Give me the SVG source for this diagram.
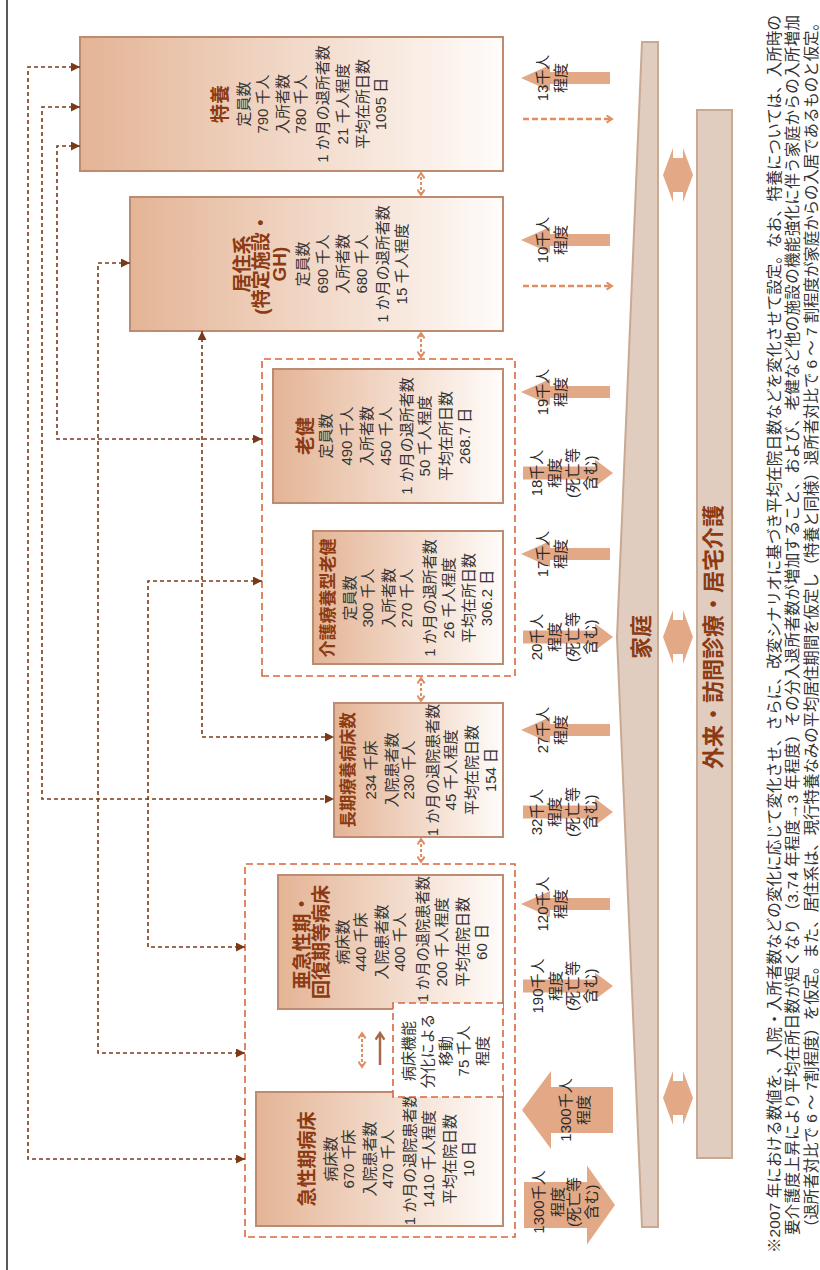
<svg xmlns="http://www.w3.org/2000/svg" width="820" height="1270" viewBox="0 0 820 1270">
<defs>
<style>
.box{fill:url(#bg);stroke:#bd8c70;stroke-width:2}
.grp{fill:none;stroke:#d9673d;stroke-width:1.6;stroke-dasharray:7 4}
.conn{fill:none;stroke:#7b3a17;stroke-width:1.6;stroke-dasharray:4 3;marker-start:url(#tri);marker-end:url(#tri)}
.t{font-family:'Liberation Sans','Noto Sans CJK JP',sans-serif;font-size:15px;fill:#333;text-anchor:middle;dominant-baseline:central}
.h{font-weight:bold;fill:#8b3a12;font-size:19px}
.lb{font-family:'Liberation Sans','Noto Sans CJK JP',sans-serif;font-size:15px;fill:#2b2b2b;text-anchor:middle;dominant-baseline:central}
.arr{fill:#e3a886}
.bar{fill:#e0cdc0;stroke:#caa993;stroke-width:2}
.od{fill:none;stroke:#df8e62;stroke-width:2;stroke-dasharray:3 2;marker-start:url(#chO);marker-end:url(#chO)}
.ol{fill:none;stroke:#df8e62;stroke-width:2.5;stroke-dasharray:6 3;marker-end:url(#chO)}
.bt{font-family:'Liberation Sans','Noto Sans CJK JP',sans-serif;font-size:22px;font-weight:bold;fill:#8b3a12;text-anchor:middle;dominant-baseline:central}
.n{font-family:'Liberation Sans','Noto Sans CJK JP',sans-serif;font-size:15.5px;fill:#333;dominant-baseline:central}
</style>
<linearGradient id="bg" x1="0" y1="0" x2="0" y2="1"><stop offset="0" stop-color="#e4b495"/><stop offset="1" stop-color="#fffcfa"/></linearGradient>
<marker id="tri" viewBox="0 0 10 10" refX="10" refY="5" markerWidth="9" markerHeight="9" markerUnits="userSpaceOnUse" orient="auto-start-reverse"><path d="M0,0 L10,5 L0,10 Z" fill="#7b3a17"/></marker>
<marker id="chO" viewBox="0 0 10 10" refX="8" refY="5" markerWidth="9" markerHeight="9" markerUnits="userSpaceOnUse" orient="auto-start-reverse"><path d="M2,1 L8,5 L2,9" fill="none" stroke="#df8e62" stroke-width="2.2"/></marker>
<marker id="chB" viewBox="0 0 10 10" refX="8" refY="5" markerWidth="11" markerHeight="11" markerUnits="userSpaceOnUse" orient="auto"><path d="M2,1 L8,5 L2,9" fill="none" stroke="#a5694b" stroke-width="2.2"/></marker>
<path id="upS" d="M0,521 L13,550 L6,550 L6,610 L-6,610 L-6,550 L-13,550 Z"/>
<path id="dnS" d="M-6.5,523 L6.5,523 L6.5,595 L13.5,595 L0,613 L-13.5,595 L-6.5,595 Z"/>
<path id="dbl" d="M0,663 L27,673 L17,673 L17,683 L27,683 L0,693 L-27,683 L-17,683 L-17,673 L-27,673 Z"/>
</defs>
<rect width="820" height="1270" fill="#fff"/>
<g transform="translate(0,1270) rotate(-90)">
<line x1="0" y1="7" x2="1270" y2="7" stroke="#222" stroke-width="1.5"/>

<g id="bars">
<g id="n-home">
<polygon class="bar" points="1228,642 1228,658 43,658 43,642 633,617"/>
<text class="bt" x="633" y="641">家庭</text>
</g>
<g id="n-outpatient">
<rect class="bar" x="112" y="697" width="1048" height="35"/>
<text class="bt" x="633" y="713">外来・訪問診療・居宅介護</text>
</g>
<g id="exchange" class="arr">
<use href="#dbl" x="1095"/>
<use href="#dbl" x="633"/>
<use href="#dbl" x="172"/>
</g>
</g>

<g id="groups">
<rect id="grp-care" class="grp" x="594" y="262" width="317" height="253"/>
<rect id="grp-hosp" class="grp" x="33" y="245" width="373" height="270"/>
</g>

<g id="n-tokuyo">
<rect class="box" x="1099" y="80" width="134" height="423"/>
<text class="t h" x="1166" y="220">特養</text>
<text class="t"><tspan x="1166" y="243">定員数</tspan><tspan x="1166" y="262">790 千人</tspan><tspan x="1166" y="282">入所者数</tspan><tspan x="1166" y="300">780 千人</tspan><tspan x="1166" y="322">1 か月の退所者数</tspan><tspan x="1166" y="342">21 千人程度</tspan><tspan x="1166" y="362">平均在所日数</tspan><tspan x="1166" y="380">1095 日</tspan></text>
</g>

<g id="n-kyoju">
<rect class="box" x="939" y="130" width="134" height="373"/>
<text class="t h"><tspan x="1006" y="242">居住系</tspan><tspan x="1006" y="261">(特定施設・</tspan><tspan x="1006" y="279">GH)</tspan></text>
<text class="t"><tspan x="1006" y="302">定員数</tspan><tspan x="1006" y="322">690 千人</tspan><tspan x="1006" y="342">入所者数</tspan><tspan x="1006" y="361">680 千人</tspan><tspan x="1006" y="382">1 か月の退所者数</tspan><tspan x="1006" y="401">15 千人程度</tspan></text>
</g>

<g id="n-roken">
<rect class="box" x="767" y="273" width="134" height="230"/>
<text class="t h" x="834" y="305">老健</text>
<text class="t"><tspan x="834" y="325">定員数</tspan><tspan x="834" y="346">490 千人</tspan><tspan x="834" y="366">入所者数</tspan><tspan x="834" y="385">450 千人</tspan><tspan x="834" y="406">1 か月の退所者数</tspan><tspan x="834" y="424">50 千人程度</tspan><tspan x="834" y="445">平均在所日数</tspan><tspan x="834" y="464">268.7 日</tspan></text>
</g>

<g id="n-kaigo">
<rect class="box" x="606" y="313" width="133" height="190"/>
<text class="t h" x="672" y="328" style="font-size:17px">介護療養型老健</text>
<text class="t"><tspan x="672" y="349">定員数</tspan><tspan x="672" y="367">300 千人</tspan><tspan x="672" y="388">入所者数</tspan><tspan x="672" y="406">270 千人</tspan><tspan x="672" y="429">1 か月の退所者数</tspan><tspan x="672" y="448">26 千人程度</tspan><tspan x="672" y="468">平均在所日数</tspan><tspan x="672" y="486">306.2 日</tspan></text>
</g>

<g id="n-choki">
<rect class="box" x="433" y="334" width="134" height="169"/>
<text class="t h" x="500" y="348" style="font-size:16.5px">長期療養病床数</text>
<text class="t"><tspan x="500" y="370">234 千床</tspan><tspan x="500" y="391">入院患者数</tspan><tspan x="500" y="408">230 千人</tspan><tspan x="500" y="432">1 か月の退院患者数</tspan><tspan x="500" y="450">45 千人程度</tspan><tspan x="500" y="471">平均在院日数</tspan><tspan x="500" y="490">154 日</tspan></text>
</g>

<g id="n-akyusei">
<rect class="box" x="261" y="278" width="134" height="225"/>
<text class="t h"><tspan x="328" y="302">亜急性期・</tspan><tspan x="328" y="321">回復期等病床</tspan></text>
<text class="t"><tspan x="328" y="342">病床数</tspan><tspan x="328" y="360">440 千床</tspan><tspan x="328" y="381">入院患者数</tspan><tspan x="328" y="399">400 千人</tspan></text>
<text class="t" x="331" y="422" textLength="126" lengthAdjust="spacingAndGlyphs">1 か月の退院患者数</text>
<text class="t"><tspan x="328" y="441">200 千人程度</tspan><tspan x="328" y="462">平均在院日数</tspan><tspan x="328" y="481">60 日</tspan></text>
</g>

<g id="n-kyusei">
<rect class="box" x="44" y="256" width="134" height="247"/>
<text class="t h" x="111" y="307">急性期病床</text>
<text class="t"><tspan x="111" y="330">病床数</tspan><tspan x="111" y="348">670 千床</tspan><tspan x="111" y="369">入院患者数</tspan><tspan x="111" y="387">470 千人</tspan><tspan x="111" y="409">1 か月の退院患者数</tspan><tspan x="111" y="428">1410 千人程度</tspan><tspan x="111" y="449">平均在院日数</tspan><tspan x="111" y="468">10 日</tspan></text>
</g>

<g id="n-transfer">
<rect x="173" y="393" width="94" height="110" fill="#fff" stroke="#d9673d" stroke-width="1.6" stroke-dasharray="7 4"/>
<text class="t"><tspan x="219" y="408">病床機能</tspan><tspan x="219" y="427">分化による</tspan><tspan x="219" y="445">移動</tspan><tspan x="219" y="463">75 千人</tspan><tspan x="219" y="482">程度</tspan></text>
</g>

<g id="connectors">
<path class="conn" d="M1203,80 L1203,28 L111,28 L111,245"/>
<path class="conn" d="M1163,80 L1163,42 L471,42 L471,334"/>
<path class="conn" d="M1124,80 L1124,57 L831,57 L831,262"/>
<path class="conn" d="M1007,130 L1007,98 L217,98 L217,245"/>
<path class="conn" d="M689,262 L689,148 L323,148 L323,245"/>
<path class="conn" d="M939,202 L533,202 L533,334"/>
<path class="od" d="M1075,421 L1097,421"/>
<path class="od" d="M913,421 L937,421"/>
<path class="od" d="M569,421 L592,421"/>
<path class="od" d="M408,421 L431,421"/>
<path class="od" d="M203,362 L237,362"/>
<path d="M205,380 L237,380" fill="none" stroke="#a5694b" stroke-width="2.5" marker-end="url(#chB)"/>
</g>

<g id="flows">
<g class="arr">
<use href="#upS" x="1192"/>
<use href="#upS" x="1030"/>
<use href="#upS" x="878"/>
<use href="#upS" x="716"/>
<use href="#upS" x="540"/>
<use href="#upS" x="366"/>
<use href="#dnS" x="797"/>
<use href="#dnS" x="633"/>
<use href="#dnS" x="458"/>
<use href="#dnS" x="284"/>
<path d="M160,522 L199,551 L183,551 L183,613 L137,613 L137,551 L121,551 Z"/>
<path d="M42,524 L88,524 L88,587 L104.5,587 L65,615 L25.5,587 L42,587 Z"/>
</g>
<path class="ol" d="M1151,523 L1151,612"/>
<path class="ol" d="M984,523 L984,612"/>
<text class="lb"><tspan x="1192" y="542">13千人</tspan><tspan x="1192" y="560">程度</tspan></text>
<text class="lb"><tspan x="1030" y="542">10千人</tspan><tspan x="1030" y="560">程度</tspan></text>
<text class="lb"><tspan x="878" y="542">19千人</tspan><tspan x="878" y="560">程度</tspan></text>
<text class="lb"><tspan x="797" y="536">18千人</tspan><tspan x="797" y="554">程度</tspan><tspan x="797" y="572">(死亡等</tspan><tspan x="797" y="590">含む)</tspan></text>
<text class="lb"><tspan x="716" y="542">17千人</tspan><tspan x="716" y="560">程度</tspan></text>
<text class="lb"><tspan x="633" y="536">20千人</tspan><tspan x="633" y="554">程度</tspan><tspan x="633" y="572">(死亡等</tspan><tspan x="633" y="590">含む)</tspan></text>
<text class="lb"><tspan x="540" y="542">27千人</tspan><tspan x="540" y="560">程度</tspan></text>
<text class="lb"><tspan x="458" y="536">32千人</tspan><tspan x="458" y="554">程度</tspan><tspan x="458" y="572">(死亡等</tspan><tspan x="458" y="590">含む)</tspan></text>
<text class="lb"><tspan x="366" y="542">120千人</tspan><tspan x="366" y="560">程度</tspan></text>
<text class="lb"><tspan x="284" y="537">190千人</tspan><tspan x="284" y="555">程度</tspan><tspan x="284" y="572">(死亡等</tspan><tspan x="284" y="590">含む)</tspan></text>
<text class="lb"><tspan x="160" y="565">1300千人</tspan><tspan x="160" y="583">程度</tspan></text>
<text class="lb"><tspan x="68" y="538">1300千人</tspan><tspan x="68" y="557">程度</tspan><tspan x="68" y="573">(死亡等</tspan><tspan x="68" y="591">含む)</tspan></text>
</g>

<g id="n-note">
<text class="n" x="17" y="774" textLength="1238" lengthAdjust="spacing">※2007 年における数値を、入院・入所者数などの変化に応じて変化させ、さらに、改変シナリオに基づき平均在院日数などを変化させて設定。なお、特養については、入所時の</text>
<text class="n" x="35" y="792.5" textLength="1220" lengthAdjust="spacing">要介護度上昇により平均在所日数が短くなり（3.74 年程度→3 年程度）その分入退所者数が増加すること、および、老健など他の施設の機能強化に伴う家庭からの入所増加</text>
<text class="n" x="35" y="811" textLength="1220" lengthAdjust="spacing">（退所者対比で 6 ～ 7割程度）を仮定。また、居住系は、現行特養なみの平均居住期間を仮定し（特養と同様）退所者対比で 6 ～ 7 割程度が家庭からの入居であるものと仮定。</text>
</g>
</g>
</svg>
